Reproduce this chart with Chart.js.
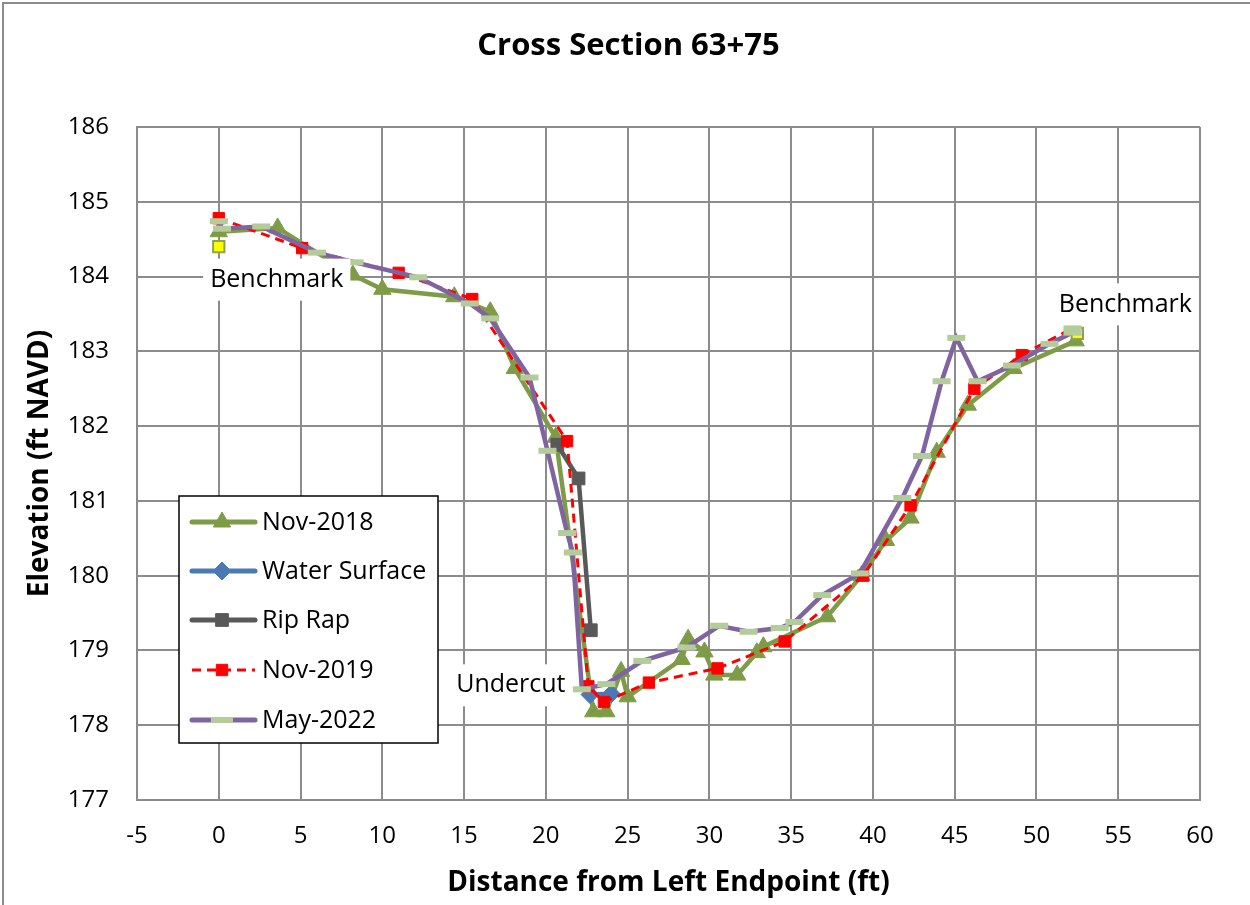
<!DOCTYPE html>
<html>
<head>
<meta charset="utf-8">
<script src="https://cdn.jsdelivr.net/npm/chart.js@4"></script>
<style>
html,body{margin:0;padding:0;background:#fff}
</style>
</head>
<body>
<canvas id="chart" width="1250" height="905"></canvas>
<script>
// values
const nov2018X=[0,3.6,8.2,10.0,14.4,16.6,18.1,20.6,22.9,23.7,24.6,25.0,28.3,28.7,29.7,30.3,31.7,32.9,33.3,37.2,39.3,40.8,42.3,43.9,45.8,48.6,52.4];
const nov2018Y=[184.6,184.65,184.02,183.83,183.73,183.53,182.77,181.85,178.18,178.18,178.72,178.38,178.88,179.15,178.98,178.67,178.67,178.97,179.05,179.45,180.0,180.47,180.77,181.65,182.28,182.77,183.14];
const waterX=[22.7,24.0];
const waterY=[178.41,178.42];
const ripRapX=[20.7,22.0,22.75];
const ripRapY=[181.75,181.3,179.27];
const nov2019X=[0,5.1,11.0,15.5,21.3,22.6,23.55,26.3,30.5,34.6,39.4,42.3,46.2,49.1,52.2];
const nov2019Y=[184.78,184.38,184.05,183.7,181.8,178.52,178.31,178.57,178.76,179.12,180.0,180.94,182.5,182.95,183.31];
const may2022X=[0,0.2,2.6,6.0,8.3,12.2,15.35,16.6,19.0,20.1,21.3,21.65,22.2,23.7,25.9,28.6,30.6,32.4,34.3,35.2,36.9,39.2,41.8,43.0,44.2,45.1,46.4,48.5,50.8,52.2,52.2];
const may2022Y=[184.74,184.64,184.67,184.32,184.19,183.99,183.64,183.44,182.65,181.67,180.57,180.31,178.48,178.55,178.86,179.04,179.33,179.25,179.3,179.38,179.74,180.03,181.04,181.6,182.6,183.18,182.6,182.81,183.1,183.25,183.32];
const benchX=[0,52.5];
const benchY=[184.4,183.24];
const xTicks={min:-5,max:60,step:5};
const yTicks={min:177,max:186,step:1};

const FONT="'Open Sans', sans-serif";
const GRID='#8c8c8c';

function pts(xs,ys){return xs.map((x,i)=>({x:x,y:ys[i]}));}

const ctx=document.getElementById('chart').getContext('2d');

const extras={
  id:'extras',
  beforeDraw(chart){
    const c=chart.ctx;
    c.save();
    c.fillStyle='#fff';
    c.fillRect(0,0,chart.width,chart.height);
    c.restore();
  },
  afterDatasetsDraw(chart){
    const c=chart.ctx, xs=chart.scales.x, ys=chart.scales.y;
    c.save();
    c.font='25px '+FONT;
    c.textBaseline='middle';
    c.textAlign='center';
    function label(txt,px,py){
      const w=c.measureText(txt).width;
      c.fillStyle='#fff';
      c.fillRect(px-w/2-7,py-21,w+14,42);
      c.fillStyle='#000';
      c.fillText(txt,px,py);
    }
    label('Benchmark',xs.getPixelForValue(benchX[0])+58,ys.getPixelForValue(benchY[0])+33);
    label('Benchmark',xs.getPixelForValue(benchX[1])+48,ys.getPixelForValue(benchY[1])-29);
    label('Undercut',xs.getPixelForValue(may2022X[12])-71,ys.getPixelForValue(may2022Y[12])-4);
    c.restore();
  },
  afterDraw(chart){
    const c=chart.ctx, a=chart.chartArea;
    c.save();
    // outer frame
    c.strokeStyle='#8c8c8c';
    c.lineWidth=2;
    c.strokeRect(3,3,chart.width+10,chart.height+10);
    // title
    c.fillStyle='#000';
    c.textAlign='center';
    c.textBaseline='middle';
    c.font='bold 31px '+FONT;
    c.fillText('Cross Section 63+75',(a.left+a.right)/2-40,46);
    c.font='bold 28px '+FONT;
    c.fillText('Distance from Left Endpoint (ft)',(a.left+a.right)/2,883);
    c.save();
    c.translate(40,(a.top+a.bottom)/2);
    c.rotate(-Math.PI/2);
    c.fillText('Elevation (ft NAVD)',0,0);
    c.restore();
    // legend box
    const lx=179, ly=496, lw=259, lh=247;
    c.fillStyle='#fff';
    c.fillRect(lx,ly,lw,lh);
    c.strokeStyle='#000';
    c.lineWidth=1.5;
    c.strokeRect(lx,ly,lw,lh);
    const rows=[522,571,620,670,720];
    const items=chart.data.datasets.filter(d=>d.label!=='Benchmark');
    c.font='25px '+FONT;
    c.textAlign='left';
    items.forEach((d,i)=>{
      const y=rows[i];
      c.save();
      c.strokeStyle=d.borderColor;
      c.lineWidth=d.label==='Nov-2019'?3:5;
      c.setLineDash(d.borderDash||[]);
      c.lineCap=d.borderDash?'butt':'round';
      c.beginPath();c.moveTo(192,y);c.lineTo(255,y);c.stroke();
      c.restore();
      c.fillStyle=d.pointBackgroundColor;
      c.strokeStyle=d.pointBorderColor;
      c.lineWidth=d.label==='May-2022'?6:1;
      c.beginPath();
      if(d.label==='May-2022'){c.moveTo(211,y);c.lineTo(233,y);c.stroke();}
      else{Chart.helpers.drawPoint(c,{pointStyle:d.pointStyle,radius:d.pointRadius,rotation:0,borderWidth:1},222,y);}
      c.fillStyle='#000';
      c.fillText(d.label,262,y+1);
    });
    c.restore();
  }
};

new Chart(ctx,{
  type:'scatter',
  data:{
    datasets:[
      {label:'Nov-2018',data:pts(nov2018X,nov2018Y),showLine:true,borderColor:'#7e9c47',borderWidth:4.5,
       pointStyle:'triangle',pointRadius:10,pointBackgroundColor:'#7e9c47',pointBorderColor:'#7e9c47',pointBorderWidth:1,order:5},
      {label:'Water Surface',data:pts(waterX,waterY),showLine:true,borderColor:'#4a79b3',borderWidth:4.5,
       pointStyle:'rectRot',pointRadius:9,pointBackgroundColor:'#4a79b3',pointBorderColor:'#4a79b3',pointBorderWidth:1,order:3},
      {label:'Rip Rap',data:pts(ripRapX,ripRapY),showLine:true,borderColor:'#595959',borderWidth:4.5,
       pointStyle:'rect',pointRadius:9,pointBackgroundColor:'#595959',pointBorderColor:'#595959',pointBorderWidth:1,order:2},
      {label:'Nov-2019',data:pts(nov2019X,nov2019Y),showLine:true,borderColor:'#ff0000',borderWidth:3,borderDash:[9,6],
       pointStyle:'rect',pointRadius:8,pointBackgroundColor:'#ff0000',pointBorderColor:'#ff0000',pointBorderWidth:1,order:1},
      {label:'May-2022',data:pts(may2022X,may2022Y),showLine:true,borderColor:'#8064a2',borderWidth:4.5,
       pointStyle:'line',pointRadius:9,pointBackgroundColor:'#b3cc99',pointBorderColor:'#b3cc99',pointBorderWidth:6,order:0},
      {label:'Benchmark',data:pts(benchX,benchY),showLine:false,
       pointStyle:'rect',pointRadius:8,pointBackgroundColor:'#ffff00',pointBorderColor:'#8aa552',pointBorderWidth:2,order:4}
    ]
  },
  options:{
    responsive:false,
    animation:false,
    layout:{padding:{left:0,right:50,top:127,bottom:0}},
    plugins:{legend:{display:false},tooltip:{enabled:false},title:{display:false}},
    scales:{
      x:{type:'linear',min:xTicks.min,max:xTicks.max,
        ticks:{stepSize:xTicks.step,color:'#000',font:{family:FONT,size:24},padding:22,maxRotation:0},
        grid:{color:GRID,lineWidth:2,drawTicks:false},
        border:{color:GRID,width:2},
        afterFit(s){s.height=105;}},
      y:{type:'linear',min:yTicks.min,max:yTicks.max,
        ticks:{stepSize:yTicks.step,color:'#000',font:{family:FONT,size:24},padding:28},
        grid:{color:GRID,lineWidth:2,drawTicks:false},
        border:{color:GRID,width:2},
        afterFit(s){s.width=137;}}
    }
  },
  plugins:[extras]
});
</script>
</body>
</html>
